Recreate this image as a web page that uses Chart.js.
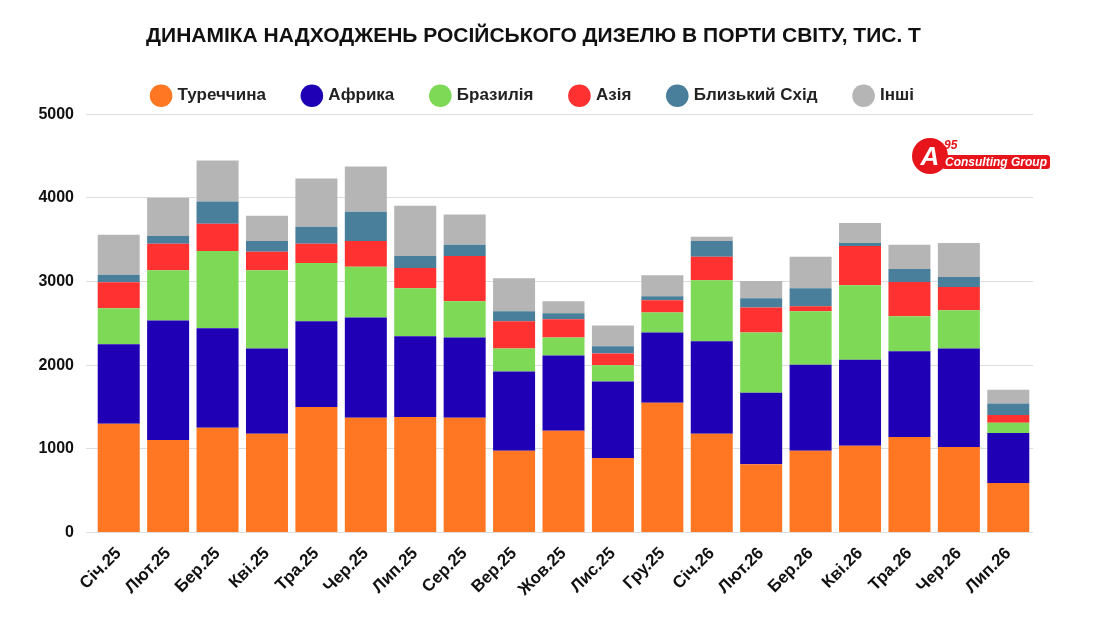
<!DOCTYPE html>
<html><head><meta charset="utf-8">
<script src="https://cdn.jsdelivr.net/npm/chart.js@4"></script>
<style>body{margin:0;background:#fff}#w{position:relative;width:1108px;height:622px}
#logo{position:absolute;left:912px;top:138px;font-family:'Liberation Sans';font-style:italic;font-weight:bold;color:#e8141c;width:130px;height:40px}
#logo .a{position:absolute;left:0;top:0;width:36px;height:36px;border-radius:50%;background:#e8141c;color:#fff;font-size:26px;text-align:center;line-height:36px}
#logo .c{position:absolute;left:30px;top:17px;font-size:12px;white-space:nowrap;color:#fff;background:#e8141c;padding:0 3px;border-radius:3px}
#logo .n{position:absolute;left:32px;top:0px;font-size:12px}</style></head>
<body><div id="w"><canvas id="c" width="1108" height="622"></canvas>
<div id="logo"><span class="a">A</span><span class="n">95</span><span class="c">Consulting Group</span></div></div>
<script>
const labels=["Січ.25","Лют.25","Бер.25","Кві.25","Тра.25","Чер.25","Лип.25","Сер.25","Вер.25","Жов.25","Лис.25","Гру.25","Січ.26","Лют.26","Бер.26","Кві.26","Тра.26","Чер.26","Лип.26"];
const turkey=[1300,1105,1250,1180,1500,1370,1380,1370,975,1215,890,1550,1180,815,975,1035,1140,1020,590];
const africa=[950,1430,1190,1020,1025,1200,965,960,950,900,915,840,1105,855,1030,1030,1025,1180,600];
const brazil=[430,600,925,935,695,605,575,435,275,215,195,240,730,720,640,890,420,455,120];
const asia=[310,315,325,220,230,310,240,540,325,220,140,145,280,300,60,470,410,280,95];
const middleEast=[90,95,265,130,205,350,145,135,120,70,85,50,190,110,215,35,155,120,135];
const others=[480,455,490,300,575,540,600,360,395,145,250,250,50,205,375,240,290,405,165];
const names=["Туреччина","Африка","Бразилія","Азія","Близький Схід","Інші"];
const colors=["#FF7722","#1F00B4","#7ED957","#FF3131","#4A7F9B","#B5B5B5"];
const series=[turkey,africa,brazil,asia,middleEast,others];
const F='Liberation Sans';
new Chart(document.getElementById('c'),{type:'bar',
data:{labels,datasets:series.map((d,i)=>({label:names[i],data:d,backgroundColor:colors[i],barPercentage:0.85,categoryPercentage:1}))},
options:{responsive:false,animation:false,
layout:{padding:{left:34,right:75,top:10,bottom:19}},
plugins:{title:{display:true,text:"ДИНАМІКА НАДХОДЖЕНЬ РОСІЙСЬКОГО ДИЗЕЛЮ В ПОРТИ СВІТУ, ТИС. Т",color:'#111',font:{family:F,size:21,weight:'bold'},padding:{top:14,bottom:0}},
legend:{labels:{usePointStyle:true,pointStyle:'circle',boxWidth:16,boxHeight:16,padding:38,color:'#222',font:{family:F,size:17,weight:'bold'}}},
tooltip:{enabled:false}},
scales:{x:{stacked:true,grid:{display:false},border:{display:false},ticks:{color:'#111',maxRotation:45,minRotation:45,font:{family:F,size:17,weight:'bold'}}},
y:{stacked:true,min:0,max:5000,afterFit:a=>{a.width=60},ticks:{stepSize:1000,color:'#111',padding:12,callback:v=>String(v),font:{family:F,size:16,weight:'bold'}},grid:{color:'#ddd'},border:{display:false}}}}});
</script></body></html>
